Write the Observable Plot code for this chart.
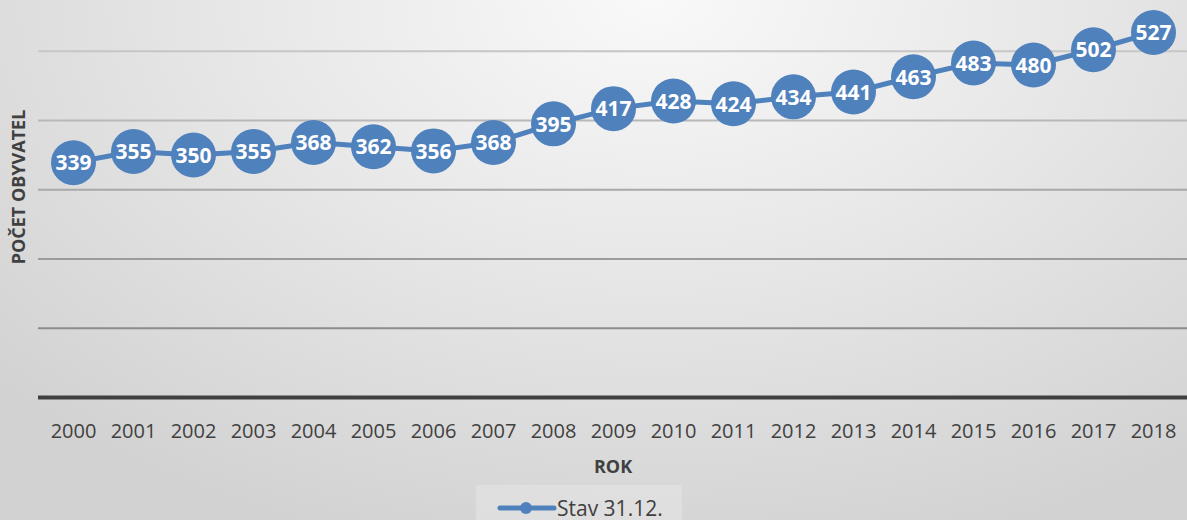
<!DOCTYPE html>
<html>
<head>
<meta charset="utf-8">
<script src="https://cdn.jsdelivr.net/npm/d3@7"></script>
<script src="https://cdn.jsdelivr.net/npm/@observablehq/plot@0.6"></script>
<style>
  html, body { margin: 0; padding: 0; }
  body {
    width: 1187px; height: 520px; overflow: hidden;
    font-family: "Open Sans", sans-serif;
    background: radial-gradient(ellipse 75% 110% at 55% 0%, #f9f9f9 0%, #e8e8e8 45%, #d2d2d2 100%);
  }
  #chart svg { display: block; background: transparent; }
  #legend {
    margin-left: 476px; margin-top: 5px; width: 206px; height: 40px;
    background: rgba(255,255,255,0.22);
    display: flex; align-items: flex-start;
  }
  #legend svg { display: block; }
  #legend span { font-size: 21px; color: #404040; line-height: 24px; margin-top: 11px; margin-left: -1px; }
</style>
</head>
<body>
<div id="chart"></div>
<div id="legend"></div>
<script>
const years = [2000,2001,2002,2003,2004,2005,2006,2007,2008,2009,2010,2011,2012,2013,2014,2015,2016,2017,2018];
const population = [339,355,350,355,368,362,356,368,395,417,428,424,434,441,463,483,480,502,527];
const gridTicks = [100,200,300,400,500];
const seriesName = "Stav 31.12.";
const xTitle = "ROK";
const yTitle = "POČET OBYVATEL";

const data = years.map((y, i) => ({year: String(y), value: population[i]}));
const blue = "#4F81BD";
const gridColor = d3.scaleLinear().domain([100, 500]).range(["#8c8c8c", "#c6c6c6"]);

const chart = Plot.plot({
  width: 1187,
  height: 480,
  marginLeft: 38,
  marginRight: 0,
  marginTop: 16,
  marginBottom: 83,
  style: {background: "transparent", fontFamily: "Open Sans, sans-serif", color: "#404040", overflow: "visible"},
  x: {type: "point", domain: years.map(String), padding: 0.5},
  y: {domain: [0, 550], axis: null},
  marks: [
    Plot.ruleY(gridTicks, {stroke: d => gridColor(d), strokeWidth: 2}),
    Plot.ruleY([0], {stroke: "#404040", strokeWidth: 4}),
    Plot.axisX({tickSize: 0, tickPadding: 26, fontSize: 20, label: xTitle, labelAnchor: "center", labelArrow: "none", labelOffset: 75}),
    Plot.text([yTitle], {frameAnchor: "left", text: d => d, rotate: -90, dx: -19, dy: -20, fontSize: 18, fontWeight: "bold", fill: "#404040", textAnchor: "middle", lineAnchor: "middle"}),
    Plot.line(data, {x: "year", y: "value", stroke: blue, strokeWidth: 5}),
    Plot.dot(data, {x: "year", y: "value", r: 22.5, fill: blue, stroke: null}),
    Plot.text(data, {x: "year", y: "value", text: d => String(d.value), fill: "white", fontSize: 21, fontWeight: "bold", lineAnchor: "middle", dy: 1})
  ]
});
chart.querySelectorAll("g[aria-label='x-axis label'] text").forEach(t => { t.setAttribute("font-weight", "bold"); t.setAttribute("font-size", "18"); });
document.getElementById("chart").appendChild(chart);

// legend
const leg = document.getElementById("legend");
const ls = d3.create("svg").attr("width", 82).attr("height", 40);
ls.append("line").attr("x1", 24).attr("x2", 78).attr("y1", 23).attr("y2", 23).attr("stroke", blue).attr("stroke-width", 5).attr("stroke-linecap", "round");
ls.append("circle").attr("cx", 50).attr("cy", 23).attr("r", 6).attr("fill", blue);
leg.appendChild(ls.node());
const sp = document.createElement("span");
sp.textContent = seriesName;
leg.appendChild(sp);
</script>
</body>
</html>
